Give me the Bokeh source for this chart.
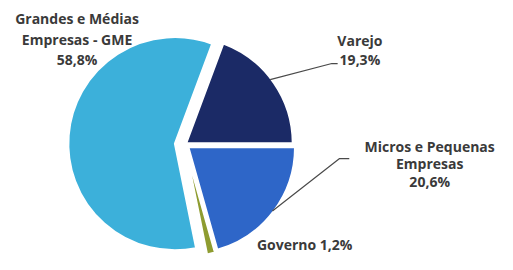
import math
from bokeh.plotting import figure
from bokeh.models import Range1d
from bokeh.core.properties import value
from bokeh.embed import file_html
from bokeh.resources import INLINE

# ---- data ----
categories = ["Varejo", "Micros e Pequenas Empresas", "Governo", "Grandes e Médias Empresas - GME"]
shares = [19.3, 20.6, 1.2, 58.8]
label_lines = [
    ["Varejo", "19,3%"],
    ["Micros e Pequenas", "Empresas", "20,6%"],
    ["Governo 1,2%"],
    ["Grandes e Médias", "Empresas - GME", "58,8%"],
]

# ---- styles / layout (reference-image pixel coordinates, y measured upward) ----
colors = ["#1B2A66", "#2E66C8", "#8E9C30", "#3CB0DA"]
explode = [2, 5, 6, 10]
W, H = 497, 254
REF_W, REF_H = 513, 270
CX, CY = 190, REF_H - 153
R = 110
label_pos = [(371, REF_H - 43), (443, REF_H - 155), (314, REF_H - 259), (79, REF_H - 19)]
line_gap = [20, 18.5, 0, 22]
leader = [  # (angle on slice edge in deg, elbow x, elbow y, end x)
    (38, 342, REF_H - 67, 348),
    (-38, 350, REF_H - 168, 360),
]

p = figure(width=W, height=H, output_backend="svg", toolbar_location=None,
           x_range=Range1d(0, REF_W), y_range=Range1d(0, REF_H),
           min_border=0)
p.axis.visible = False
p.grid.visible = False
p.outline_line_color = None
p.background_fill_color = "white"
p.border_fill_color = "white"

total = sum(shares)
a = 2 * math.pi * shares[0] / total   # first slice ends on the horizontal
centres = []
for i, s in enumerate(shares):
    sweep = 2 * math.pi * s / total
    a0, a1 = a, a - sweep          # clockwise
    mid = (a0 + a1) / 2
    cx = CX + explode[i] * math.cos(mid)
    cy = CY + explode[i] * math.sin(mid)
    centres.append((cx, cy))
    p.wedge(x=cx, y=cy, radius=R, start_angle=a1, end_angle=a0,
            fill_color=colors[i], line_color="white", line_width=2)
    a = a1

# leader lines
for k, (ang, ex, ey, endx) in enumerate(leader):
    cx, cy = centres[k]
    sx = cx + R * math.cos(math.radians(ang))
    sy = cy + R * math.sin(math.radians(ang))
    p.line([sx, ex, endx], [sy, ey, ey], line_color="#4a4a4a", line_width=1.2)

for i, lines in enumerate(label_lines):
    x0, y0 = label_pos[i]
    for j, t in enumerate(lines):
        p.text(x=[x0], y=[y0 - j * line_gap[i]], text=[t],
               text_font=value("Open Sans"), text_font_style="bold",
               text_font_size="14px", text_color="#3a3a3a",
               text_align="center", text_baseline="middle")

open("out.html", "w").write(file_html(p, INLINE))
